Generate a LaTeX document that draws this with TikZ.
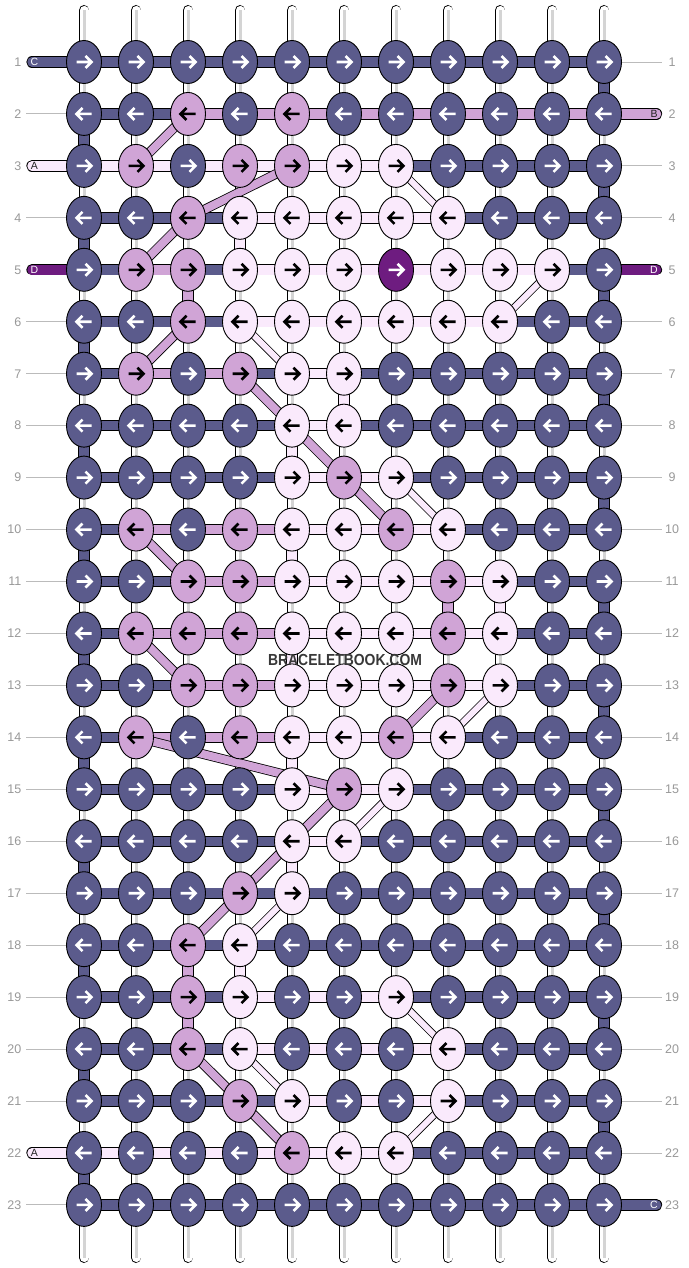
\documentclass[tikz,border=0pt]{standalone}
\usepackage{fontspec}
\setmainfont{Liberation Sans}
\usetikzlibrary{shapes.geometric}
\definecolor{cD}{HTML}{5B5B8C}
\definecolor{cL}{HTML}{D0A4D6}
\definecolor{cP}{HTML}{FAEAFC}
\definecolor{cM}{HTML}{6E1C80}
\definecolor{numgrey}{HTML}{999999}
\definecolor{linegrey}{HTML}{BBBBBB}
\definecolor{tubegrey}{HTML}{D4D4D4}
\definecolor{wmark}{HTML}{383838}
\definecolor{labdark}{HTML}{222222}
\pgfdeclarelayer{paper}
\pgfdeclarelayer{tubes}
\pgfdeclarelayer{bands}
\pgfsetlayers{paper,tubes,bands,main}
\def\acolD{white}\def\acolM{white}\def\acolL{black}\def\acolP{black}
\tikzset{
 knot/.style={ellipse, draw=black, line width=0.9pt, minimum width=35pt, minimum height=43pt, inner sep=0pt},
 band/.style={line width=0.9pt, draw=black, double=#1, double distance=9.5pt},
 diag/.style={line width=0.8pt, draw=black, double=#1, double distance=8pt},
 pdiag/.style={line width=0.8pt, draw=black, double=#1, double distance=6pt},
 tube/.style={line width=0.9pt, draw=black, double=white, double distance=9pt, line cap=round},
 tubecore/.style={line width=3pt, draw=tubegrey},
 karrow/.style={line width=2.6pt, draw=#1, line cap=butt, line join=miter},
 rownum/.style={text=numgrey, font=\fontsize{12.5}{14}\selectfont, inner sep=0pt},
 rowline/.style={draw=linegrey, line width=0.9pt},
 endlabel/.style={text=#1, font=\fontsize{10.5}{12}\selectfont, inner sep=0pt},
}
\begin{document}
\begin{tikzpicture}[x=1pt,y=-1pt]
\useasboundingbox (0,0) rectangle (688,1268);
\begin{pgfonlayer}{paper}
\fill[white] (0,0) rectangle (688,1268);
\end{pgfonlayer}

% knots
\foreach \r/\ks in {
1/{D,D,D,D,D,D,D,D,D,D,D},
2/{D,D,L,D,L,D,D,D,D,D,D},
3/{D,L,D,L,L,P,P,D,D,D,D},
4/{D,D,L,P,P,P,P,P,D,D,D},
5/{D,L,L,P,P,P,M,P,P,P,D},
6/{D,D,L,P,P,P,P,P,P,D,D},
7/{D,L,D,L,P,P,D,D,D,D,D},
8/{D,D,D,D,P,P,D,D,D,D,D},
9/{D,D,D,D,P,L,P,D,D,D,D},
10/{D,L,D,L,P,P,L,P,D,D,D},
11/{D,D,L,L,P,P,P,L,P,D,D},
12/{D,L,L,L,P,P,P,L,P,D,D},
13/{D,D,L,L,P,P,P,L,P,D,D},
14/{D,L,D,L,P,P,L,P,D,D,D},
15/{D,D,D,D,P,L,P,D,D,D,D},
16/{D,D,D,D,P,P,D,D,D,D,D},
17/{D,D,D,L,P,D,D,D,D,D,D},
18/{D,D,L,P,D,D,D,D,D,D,D},
19/{D,D,L,P,D,D,P,D,D,D,D},
20/{D,D,L,P,D,D,D,P,D,D,D},
21/{D,D,D,L,P,D,D,P,D,D,D},
22/{D,D,D,D,L,P,P,D,D,D,D},
23/{D,D,D,D,D,D,D,D,D,D,D}} {
  \foreach \k [count=\c] in \ks {
    \node[knot, fill=c\k] (k-\r-\c) at ({84+52*(\c-1)},{62+51.95*(\r-1)}) {};
    \pgfmathsetmacro\dir{ifthenelse(mod(\r,2)==1,1,-1)}
    \edef\ac{\csname acol\k\endcsname}
    \begin{scope}[shift={(k-\r-\c.center)}, xscale=\dir]
      \draw[karrow=\ac] (-7.5,0) -- (6.5,0) (1.5,-6) -- (7.5,0) -- (1.5,6);
    \end{scope}
  }
}

% warp tubes and row lines
\begin{pgfonlayer}{tubes}
\foreach \c in {1,...,11} {
  \coordinate (t-\c) at ({84+52*(\c-1)},10.4);
  \coordinate (b-\c) at ({84+52*(\c-1)},1257.6);
  \draw[tube] (t-\c) -- (b-\c);
  \draw[tubecore] (t-\c) -- (b-\c);
}
\foreach \r in {2,4,6,7,8,9,10,11,12,13,14,15,16,17,18,19,20,21,23} {
  \pgfmathsetmacro\yy{62+51.95*(\r-1)}
  \coordinate (ll-\r) at (26,\yy);
  \draw[rowline] (ll-\r) -- (k-\r-1.center);
}
\foreach \r in {1,3,4,6,7,8,9,10,11,12,13,14,15,16,17,18,19,20,21,22} {
  \pgfmathsetmacro\yy{62+51.95*(\r-1)}
  \coordinate (rl-\r) at (662,\yy);
  \draw[rowline] (k-\r-11.center) -- (rl-\r);
}
\end{pgfonlayer}

\begin{pgfonlayer}{bands}
% edge turns
\foreach \r in {2,4,...,22} {
  \pgfmathtruncatemacro\rn{\r+1}
  \draw[band=cD] (k-\r-1.center) -- (k-\rn-1.center);
}
\foreach \r in {1,3,...,21} {
  \pgfmathtruncatemacro\rn{\r+1}
  \draw[band=cD] (k-\r-11.center) -- (k-\rn-11.center);
}
% inner vertical carries
\foreach \r/\c/\col in {4/4/P,5/3/L,7/6/P,8/5/P,10/5/P,11/9/P,11/8/L,12/5/P,14/5/P,16/5/P,18/4/P,18/3/L,19/3/L} {
  \pgfmathtruncatemacro\rn{\r+1}
  \draw[band=c\col] (k-\r-\c.center) -- (k-\rn-\c.center);
}
% row bands
\foreach \r/\bs in {
1/{D,D,D,D,D,D,D,D,D,D},
2/{D,D,L,L,L,L,L,L,L,L},
3/{P,P,P,P,P,P,D,D,D,D},
4/{D,D,D,P,P,P,P,D,D,D},
5/{D,L,D,P,P,P,P,P,P,D},
6/{D,D,D,P,P,P,P,P,D,D},
7/{D,L,L,D,P,D,D,D,D,D},
8/{D,D,D,D,P,D,D,D,D,D},
9/{D,D,D,D,P,P,D,D,D,D},
10/{D,L,L,L,P,P,P,D,D,D},
11/{D,D,L,L,P,P,P,P,D,D},
12/{D,L,L,L,P,P,P,P,D,D},
13/{D,D,L,L,P,P,P,P,D,D},
14/{D,L,L,L,P,P,P,D,D,D},
15/{D,D,D,D,P,P,D,D,D,D},
16/{D,D,D,D,P,D,D,D,D,D},
17/{D,D,D,D,D,D,D,D,D,D},
18/{D,D,D,D,D,D,D,D,D,D},
19/{D,D,D,P,P,P,D,D,D,D},
20/{D,D,D,P,P,P,P,D,D,D},
21/{D,D,D,D,P,P,P,D,D,D},
22/{P,P,P,P,P,P,D,D,D,D},
23/{D,D,D,D,D,D,D,D,D,D}} {
  \foreach \b [count=\c] in \bs {
    \pgfmathtruncatemacro\cn{\c+1}
    \draw[band=c\b] (k-\r-\c.center) -- (k-\r-\cn.center);
  }
}
% string ends
\foreach \r/\col/\lab/\tc in {1/D/C/white,3/P/A/labdark,5/M/D/white,22/P/A/labdark} {
  \pgfmathsetmacro\yy{62+51.95*(\r-1)}
  \coordinate (sl-\r) at (32,\yy);
  \draw[band=c\col, line cap=round] (sl-\r) -- (k-\r-1.center);
  \node[endlabel=\tc] (ls-\r) at (34.5,\yy) {\lab};
}
\foreach \r/\col/\lab/\tc in {2/L/B/labdark,5/M/D/white,23/D/C/white} {
  \pgfmathsetmacro\yy{62+51.95*(\r-1)}
  \coordinate (sr-\r) at (656.5,\yy);
  \draw[band=c\col, line cap=round] (k-\r-11.center) -- (sr-\r);
  \node[endlabel=\tc] (rs-\r) at (654,\yy) {\lab};
}
% diagonals
\foreach \ra/\ca/\rb/\cb in {2/3/3/2,3/5/4/3,4/3/5/2,6/3/7/2,7/4/8/5,8/5/9/6,9/6/10/7,10/2/11/3,12/2/13/3,13/8/14/7,14/2/15/6,15/6/16/5,16/5/17/4,17/4/18/3,20/3/21/4,21/4/22/5} {
  \draw[diag=cL] (k-\ra-\ca.center) -- (k-\rb-\cb.center);
}
\foreach \ra/\ca/\rb/\cb in {3/7/4/8,5/10/6/9,6/4/7/5,9/7/10/8,13/9/14/8,15/7/16/6,17/5/18/4,19/7/20/8,20/4/21/5,21/8/22/7} {
  \draw[pdiag=cP] (k-\ra-\ca.center) -- (k-\rb-\cb.center);
}
\end{pgfonlayer}

% row numbers
\foreach \r in {1,...,23} {
  \pgfmathsetmacro\yy{62+51.95*(\r-1)}
  \node[rownum, anchor=east] (nl-\r) at (21.5,\yy) {\r};
  \node[rownum] (nr-\r) at (672,\yy) {\r};
}
% watermark
\node[text=wmark, font=\bfseries\fontsize{16}{18}\selectfont, inner sep=0pt] (wm) at (345,659.5) {\scalebox{0.87}[1]{BRACELETBOOK.COM}};
\end{tikzpicture}
\end{document}
